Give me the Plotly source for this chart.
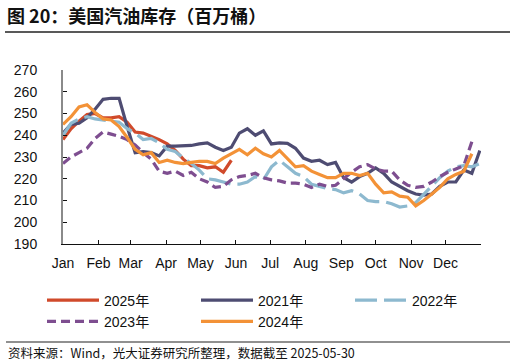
import pandas as pd
import plotly.graph_objects as go

# ---- data (weekly readings, million barrels) ----
years = ["2025年", "2021年", "2022年", "2023年", "2024年"]

v2025 = [238, 243, 246.5, 249.5, 250, 248, 248, 248.5, 246, 241.5, 241, 239.5,
         238, 236, 233, 229, 226, 226, 225, 225.5, 223, 228.5]

v2021 = [241, 245, 245.5, 248, 252, 256.5, 257, 257, 244, 232, 232.5, 232,
         230.5, 235, 235, 235, 235.3, 236, 236.5, 234.5, 233, 234.5, 241, 243,
         240, 242, 236, 236.5, 236.3, 234, 229.5, 228, 228.5, 226.5, 227.5, 220.5,
         218.5, 221, 222.5, 225, 222.5, 218.5, 216.5, 214.5, 213, 212.5, 213, 216.5,
         218.5, 218.5, 224, 222.5, 233]

v2022 = [240, 245.5, 247.5, 248.5, 247.5, 247, 246.5, 246, 243, 241, 238, 238.5,
         236.5, 233.5, 232.5, 229.5, 227, 224, 220, 219.5, 218.5, 217.5, 217.5, 218.5,
         221, 219.5, 225.5, 228.5, 225.5, 222.5, 221, 217.5, 216.5, 215.5, 215, 213.5,
         214.5, 213, 210, 209.5, 209.5, 208.5, 207, 207.5, 209, 213, 216.5, 220.5,
         223.5, 225.5, 226, 225.5, 227]

v2023 = [227, 230, 232, 234, 238.5, 241.5, 240.5, 239.5, 238, 235.5, 232, 229,
         223.5, 222.5, 223.5, 221.5, 223, 220, 218.5, 216, 216.5, 219.5, 221, 221.5,
         222.5, 220.5, 219.5, 219, 218, 218, 217.5, 216, 217.5, 216.5, 217, 220,
         223, 225.5, 226.5, 224.5, 223.5, 223.5, 219.5, 217, 216, 216.5, 218.5, 221,
         223, 224.5, 226, 237]

v2024 = [245, 248.5, 253, 254, 250.5, 247.5, 247, 244, 239, 233.5, 231, 232,
         227.5, 228.5, 227.5, 227, 227.5, 228, 228, 227, 229.5, 231.5, 233.5, 231,
         234, 231.5, 230, 233, 229, 225.5, 226, 223.5, 222, 220.5, 220.5, 222.5,
         222.5, 221.5, 222.5, 217.5, 213.5, 214, 212, 211.5, 207.5, 210, 213, 216,
         220, 222, 223.5, 231.5]

month_labels = ["Jan", "Feb", "Mar", "Apr", "May", "Jun",
                "Jul", "Aug", "Sep", "Oct", "Nov", "Dec", ""]
y_ticks = [190, 200, 210, 220, 230, 240, 250, 260, 270]

series = [v2025, v2021, v2022, v2023, v2024]
colors = ["#D04A2B", "#4E4C72", "#8DB9CF", "#7E4E90", "#F39237"]
dashes = ["solid", "solid", "22px,7px", "9px,5px", "solid"]

base = pd.Timestamp("2021-01-01")


def week_dates(n):
    return [base + pd.Timedelta(days=7 * i) for i in range(n)]


fig = go.Figure()
for name, vals, col, dsh in zip(years, series, colors, dashes):
    fig.add_trace(go.Scatter(
        x=week_dates(len(vals)), y=vals, mode="lines", name=name,
        line=dict(color=col, width=3.2, dash=dsh),
        hoverinfo="skip"))

tick_dates = [pd.Timestamp(2021, m, 1) for m in range(1, 13)] + [pd.Timestamp("2022-01-01")]

LAT = "Liberation Sans, Arial, Noto Sans CJK SC"
CJK = "Noto Sans CJK SC, Liberation Sans"

fig.update_layout(
    width=516, height=364,
    margin=dict(l=63, r=35, t=70, b=120),
    plot_bgcolor="white", paper_bgcolor="white",
    showlegend=True,
    legend=dict(orientation="h", x=(42 - 63) / 418, y=-0.233, xanchor="left", yanchor="top",
                font=dict(family=LAT, size=14, color="#111"),
                entrywidth=87, entrywidthmode="pixels", itemwidth=52,
                tracegroupgap=0, traceorder="normal"),
    xaxis=dict(type="date", range=[base, pd.Timestamp("2022-01-01")],
               tickmode="array", tickvals=tick_dates, ticktext=month_labels,
               showgrid=False, zeroline=False,
               showline=True, linecolor="#111", linewidth=1.2,
               ticks="inside", ticklen=4, tickcolor="#111", tickwidth=1,
               tickfont=dict(family=LAT, size=14, color="#111"),
               ticklabelstandoff=6),
    yaxis=dict(range=[190, 270], tickmode="array", tickvals=y_ticks,
               showgrid=False, zeroline=False,
               showline=True, linecolor="#8a8a8a", linewidth=2,
               ticks="inside", ticklen=4, tickcolor="#111", tickwidth=1,
               tickfont=dict(family=LAT, size=14, color="#111"),
               ticklabelstandoff=21),
)

# title, rules and source
fig.add_annotation(text="<b>图 20：美国汽油库存（百万桶）</b>", xref="paper", yref="paper",
                   x=(5 - 63) / 418, y=(244 - 15) / 174, xanchor="left", yanchor="middle",
                   showarrow=False, font=dict(family=CJK, size=18, color="#111"))
fig.add_shape(type="line", xref="paper", yref="paper",
              x0=(5 - 63) / 418, x1=(510 - 63) / 418,
              y0=(244 - 32) / 174, y1=(244 - 32) / 174,
              line=dict(color="#222", width=1.5))
fig.add_shape(type="line", xref="paper", yref="paper",
              x0=(6 - 63) / 418, x1=(510 - 63) / 418,
              y0=(244 - 342) / 174, y1=(244 - 342) / 174,
              line=dict(color="#222", width=1.2))
fig.add_annotation(text="资料来源：Wind，光大证券研究所整理，数据截至 2025-05-30",
                   xref="paper", yref="paper",
                   x=(6 - 63) / 418, y=(244 - 352) / 174, xanchor="left", yanchor="middle",
                   showarrow=False, font=dict(family=CJK, size=12.5, color="#111"))

fig.write_html("out.html", config={"displayModeBar": False},
               post_script="document.body.style.margin='0px';document.body.style.overflow='hidden';")
